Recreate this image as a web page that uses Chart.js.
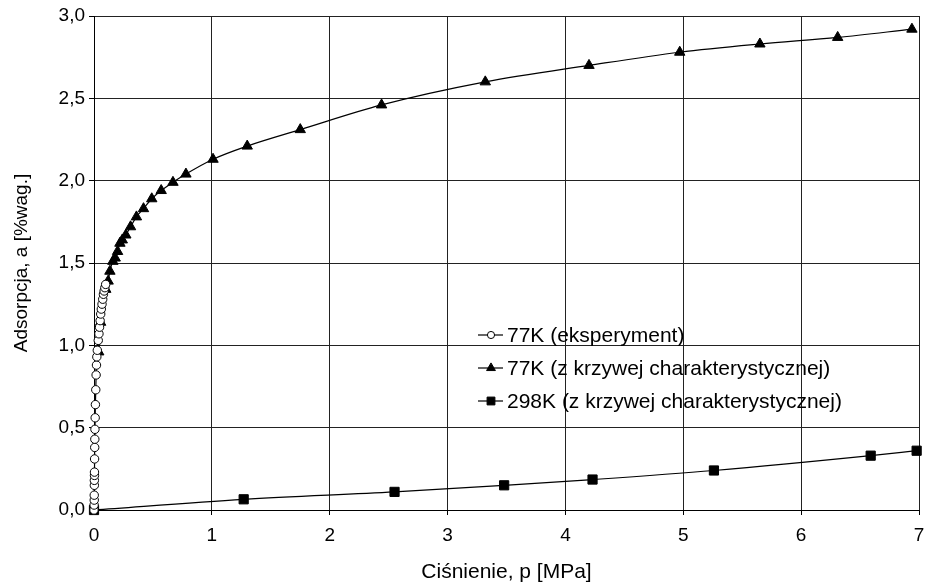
<!DOCTYPE html>
<html>
<head>
<meta charset="utf-8">
<script src="https://cdn.jsdelivr.net/npm/chart.js@4.4.1/dist/chart.umd.min.js"></script>
<style>
  html, body { margin: 0; padding: 0; background: #fff; }
</style>
</head>
<body>
<canvas id="chart" width="927" height="586"></canvas>
<script>
// 77K - experiment (open circles)
const expP = [0.000, 0.001, 0.002, 0.002, 0.003, 0.003, 0.004, 0.004, 0.005, 0.006, 0.007, 0.008, 0.010, 0.012, 0.015, 0.018, 0.021, 0.024, 0.028, 0.036, 0.042, 0.047, 0.052, 0.057, 0.062, 0.068, 0.074, 0.080, 0.086, 0.092, 0.099];
const expA = [0.00, 0.03, 0.06, 0.09, 0.15, 0.18, 0.21, 0.23, 0.31, 0.38, 0.43, 0.49, 0.56, 0.64, 0.73, 0.82, 0.88, 0.93, 0.97, 1.03, 1.07, 1.11, 1.15, 1.19, 1.22, 1.25, 1.28, 1.31, 1.33, 1.35, 1.37];

// 77K - from characteristic curve (triangles)
const char77P = [0.040, 0.056, 0.100, 0.120, 0.135, 0.160, 0.180, 0.200, 0.220, 0.240, 0.270, 0.310, 0.360, 0.420, 0.490, 0.570, 0.670, 0.780, 1.010, 1.300, 1.750, 2.440, 3.320, 4.200, 4.970, 5.650, 6.310, 6.940];
const char77A = [0.96, 1.14, 1.34, 1.39, 1.45, 1.51, 1.53, 1.57, 1.62, 1.64, 1.67, 1.72, 1.78, 1.83, 1.89, 1.94, 1.99, 2.04, 2.13, 2.21, 2.31, 2.46, 2.60, 2.70, 2.78, 2.83, 2.87, 2.92];

// 298K - from characteristic curve (squares)
const char298P = [0.00, 1.27, 2.55, 3.48, 4.23, 5.26, 6.59, 6.98];
const char298A = [0.00, 0.065, 0.11, 0.15, 0.185, 0.24, 0.33, 0.36];

const seriesNames = [
    '77K (eksperyment)',
    '77K (z krzywej charakterystycznej)',
    '298K (z krzywej charakterystycznej)'
];

const xTicksMin = 0, xTicksMax = 7;
const yTicksMin = 0, yTicksMax = 3;

const toPoints = (xs, ys) => xs.map((x, i) => ({ x: x, y: ys[i] }));
const commaFmt = v => v.toFixed(1).replace('.', ',');

const FONT = 'Arial, "Liberation Sans", Helvetica, sans-serif';

const markers = [
    { pointStyle: 'circle', radius: 4.2, fill: '#ffffff' },
    { pointStyle: 'triangle', radius: 6, fill: '#000000' },
    { pointStyle: 'rect', radius: 6.5, fill: '#000000' }
];

// legend drawn inside the plot: short line + marker + text
const insideLegend = {
    id: 'insideLegend',
    afterDraw(chart) {
        const ctx = chart.ctx;
        const x0 = 478, y0 = 335, step = 33;
        ctx.save();
        ctx.font = '21px ' + FONT;
        ctx.textBaseline = 'middle';
        ctx.textAlign = 'left';
        seriesNames.forEach((name, i) => {
            const y = y0 + i * step;
            const m = markers[i];
            ctx.strokeStyle = '#000';
            ctx.lineWidth = 1.2;
            ctx.beginPath();
            ctx.moveTo(x0, y);
            ctx.lineTo(x0 + 25, y);
            ctx.stroke();
            ctx.fillStyle = m.fill;
            ctx.lineWidth = 1;
            Chart.helpers.drawPoint(ctx, { pointStyle: m.pointStyle, radius: m.radius * 0.85, rotation: 0, borderWidth: 1 }, x0 + 13, y);
            ctx.fillStyle = '#000';
            ctx.fillText(name, x0 + 29, y + 1);
        });
        ctx.restore();
    }
};

const datasets = [
    toPoints(expP, expA),
    toPoints(char77P, char77A),
    toPoints(char298P, char298A)
].map((pts, i) => ({
    label: seriesNames[i],
    data: pts,
    showLine: true,
    clip: false,
    borderColor: '#000',
    borderWidth: 1.2,
    pointStyle: markers[i].pointStyle,
    pointRadius: markers[i].radius,
    pointBackgroundColor: markers[i].fill,
    pointBorderColor: '#000',
    pointBorderWidth: 1,
    cubicInterpolationMode: 'monotone'
}));

new Chart(document.getElementById('chart'), {
    type: 'scatter',
    data: { datasets: datasets },
    options: {
        responsive: false,
        animation: false,
        devicePixelRatio: 1,
        layout: { padding: { top: 16, right: 8, left: 0, bottom: 0 } },
        plugins: {
            legend: { display: false },
            tooltip: { enabled: false }
        },
        scales: {
            x: {
                type: 'linear',
                min: xTicksMin,
                max: xTicksMax,
                afterFit: s => { s.height = 76; s.paddingRight = 0; s.paddingLeft = 0; },
                ticks: {
                    stepSize: 1,
                    color: '#000',
                    padding: 9,
                    font: { family: FONT, size: 19 }
                },
                grid: { color: '#222', lineWidth: 1, tickLength: 5, tickColor: '#000' },
                border: { color: '#000', width: 1 },
                title: {
                    display: true,
                    text: 'Ciśnienie, p [MPa]',
                    color: '#000',
                    font: { family: FONT, size: 21 },
                    padding: { top: 0, bottom: 1 }
                }
            },
            y: {
                type: 'linear',
                min: yTicksMin,
                max: yTicksMax,
                afterFit: s => { s.width = 94; },
                ticks: {
                    stepSize: 0.5,
                    color: '#000',
                    padding: 4,
                    font: { family: FONT, size: 19 },
                    callback: v => commaFmt(v)
                },
                grid: { color: '#222', lineWidth: 1, tickLength: 5, tickColor: '#000' },
                border: { color: '#000', width: 1 },
                title: {
                    display: true,
                    text: 'Adsorpcja, a [%wag.]',
                    color: '#000',
                    font: { family: FONT, size: 19 },
                    padding: { top: 10, bottom: 0 }
                }
            }
        }
    },
    plugins: [insideLegend]
});
</script>
</body>
</html>
